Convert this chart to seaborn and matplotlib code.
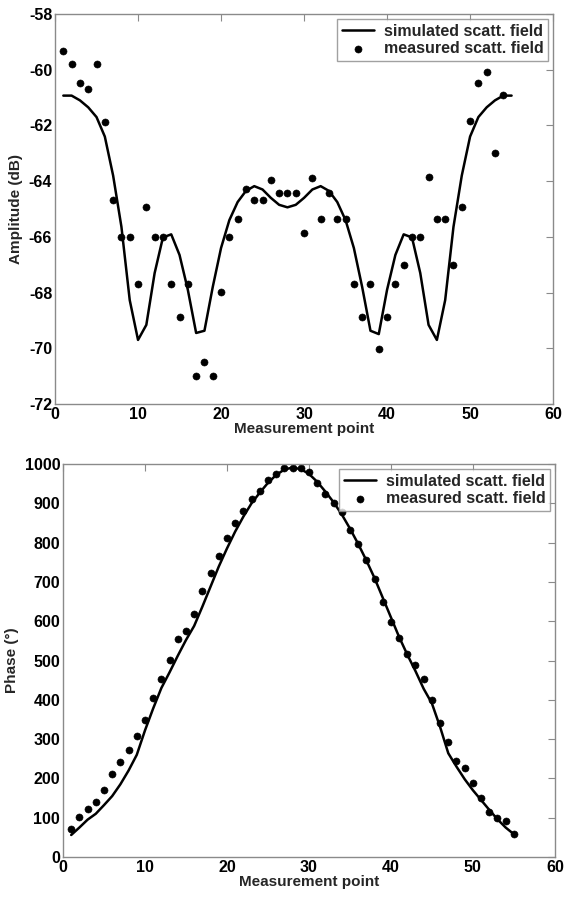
import numpy as np
import pandas as pd
import matplotlib
matplotlib.use('Agg')
import matplotlib.pyplot as plt
import seaborn as sns

# amplitude panel
points = list(range(1, 56))
amp_sim = [-60.93, -60.93, -61.1, -61.35, -61.7, -62.4, -63.8, -65.64, -68.27, -69.7,
           -69.16, -67.3, -66.02, -65.91, -66.65, -67.9, -69.45, -69.37, -67.8, -66.4,
           -65.4, -64.75, -64.35, -64.18, -64.3, -64.6, -64.85, -64.94, -64.85, -64.6,
           -64.3, -64.18, -64.35, -64.75, -65.4, -66.4, -67.8, -69.37, -69.49, -67.9,
           -66.65, -65.91, -66.02, -67.3, -69.16, -69.7, -68.27, -65.64, -63.8, -62.4,
           -61.7, -61.35, -61.1, -60.93, -60.93]
amp_meas_x = list(range(1, 55))
amp_meas = [-59.33, -59.8, -60.49, -60.69, -59.8, -61.87, -64.69, -66.0, -66.0, -67.7,
            -64.94, -66.0, -66.0, -67.7, -68.86, -67.7, -71.0, -70.48, -71.0, -67.97,
            -66.02, -65.37, -64.29, -64.69, -64.69, -63.97, -64.44, -64.44, -64.44, -65.86,
            -63.87, -65.37, -64.44, -65.37, -65.37, -67.7, -68.86, -67.7, -70.02, -68.86,
            -67.7, -67.0, -66.02, -66.02, -63.86, -65.35, -65.35, -67.0, -64.94, -61.85,
            -60.49, -60.1, -63.0, -60.9]

# phase panel
ph_sim = [56, 75, 95, 110, 132, 155, 185, 220, 260, 322,
          378, 430, 470, 512, 552, 588, 637, 688, 739, 785,
          828, 866, 900, 927, 952, 972, 986, 991, 987, 975,
          955, 930, 903, 872, 836, 797, 755, 710, 660, 610,
          560, 515, 473, 428, 391, 331, 264, 230, 198, 170,
          145, 120, 96, 75, 58]
ph_meas = [70, 103, 123, 141, 170, 211, 241, 272, 308, 348,
           405, 452, 502, 555, 576, 618, 677, 722, 767, 811,
           849, 880, 910, 932, 959, 974, 991, 991, 991, 980,
           952, 924, 901, 879, 832, 797, 756, 708, 649, 599,
           556, 516, 488, 452, 400, 340, 293, 245, 226, 189,
           150, 115, 98, 91, 58]

sns.set_style('white')
plt.rcParams['font.family'] = ['Liberation Sans', 'DejaVu Sans']
plt.rcParams['font.weight'] = 'bold'
plt.rcParams['axes.labelweight'] = 'bold'
plt.rcParams['axes.unicode_minus'] = False
plt.rcParams['font.size'] = 11

fig = plt.figure(figsize=(5.66, 8.97), dpi=100)
ax1 = fig.add_axes([0.0972, 0.5496, 0.8800, 0.4348])
ax2 = fig.add_axes([0.1113, 0.0446, 0.8690, 0.4381])


def style_axes(ax):
    for s in ax.spines.values():
        s.set_color('#8a8a8a')
        s.set_linewidth(1.0)
    ax.tick_params(direction='in', length=5, width=0.8, color='#8a8a8a',
                   top=True, right=True, labelsize=11.5, labelcolor='black', pad=2)
    for lab in ax.get_xticklabels() + ax.get_yticklabels():
        lab.set_fontweight('bold')


df_amp = pd.DataFrame({'x': points, 'y': amp_sim})
df_amp_m = pd.DataFrame({'x': amp_meas_x, 'y': amp_meas})
sns.lineplot(data=df_amp, x='x', y='y', ax=ax1, color='black', linewidth=1.8,
             label='simulated scatt. field')
sns.scatterplot(data=df_amp_m, x='x', y='y', ax=ax1, color='black', s=26,
                edgecolor='black', label='measured scatt. field')
ax1.set_xlim(0, 60)
ax1.set_ylim(-72, -58)
ax1.set_xticks(range(0, 61, 10))
ax1.set_yticks(range(-72, -57, 2))
ax1.set_xlabel('Measurement point', fontsize=11, fontweight='bold', labelpad=0)
ax1.set_ylabel('Amplitude (dB)', fontsize=11, fontweight='bold', labelpad=4)
style_axes(ax1)

df_ph = pd.DataFrame({'x': points, 'y': ph_sim})
df_ph_m = pd.DataFrame({'x': points, 'y': ph_meas})
sns.lineplot(data=df_ph, x='x', y='y', ax=ax2, color='black', linewidth=1.8,
             label='simulated scatt. field')
sns.scatterplot(data=df_ph_m, x='x', y='y', ax=ax2, color='black', s=26,
                edgecolor='black', label='measured scatt. field')
ax2.set_xlim(0, 60)
ax2.set_ylim(0, 1000)
ax2.set_xticks(range(0, 61, 10))
ax2.set_yticks(range(0, 1001, 100))
ax2.set_xlabel('Measurement point', fontsize=11, fontweight='bold', labelpad=0)
ax2.set_ylabel('Phase (°)', fontsize=11, fontweight='bold', labelpad=4)
style_axes(ax2)

for ax in (ax1, ax2):
    leg = ax.legend(loc='upper right', fontsize=11.5, frameon=True, fancybox=False,
                    borderaxespad=0.3, handlelength=2.0, handletextpad=0.6,
                    borderpad=0.3, labelspacing=0.15)
    leg.get_frame().set_edgecolor('#8a8a8a')
    leg.get_frame().set_linewidth(1.0)
    for t in leg.get_texts():
        t.set_fontweight('bold')

fig.savefig('out.png', dpi=100)
